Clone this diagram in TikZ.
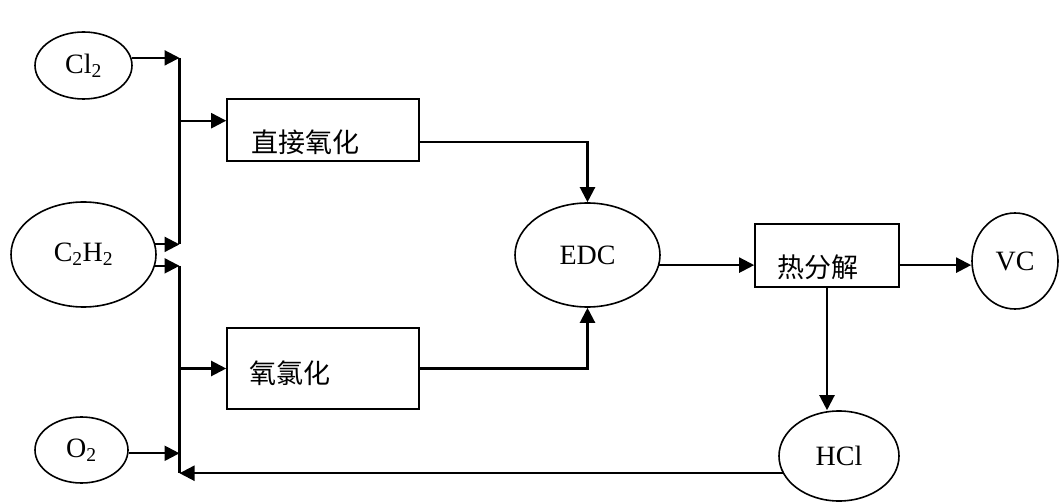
\documentclass[tikz,border=0pt]{standalone}
\usepackage{fontspec}
\setmainfont{Liberation Serif}
\newfontfamily\cjk{Noto Sans CJK SC}
\usetikzlibrary{shapes.geometric,arrows.meta,calc}
\begin{document}
\begin{tikzpicture}[x=1pt,y=-1pt,
  ell/.style={draw,ellipse,line width=1.6pt,inner sep=0pt,font=\fontsize{28}{30}\selectfont},
  box/.style={draw,rectangle,line width=1.6pt,inner sep=0pt},
  lbl/.style={inner sep=0pt,font=\cjk\fontsize{27}{29}\selectfont},
  ln/.style={line width=2.2pt},
  arr/.style={line width=2.2pt,-{Triangle[length=15pt,width=15pt]}}]
\useasboundingbox (0,0) rectangle (1059,502);
% ellipses
\node[ell,minimum width=97pt,minimum height=67pt] (cl2) at (83.5,65.5) {Cl\textsubscript{2}};
\node[ell,minimum width=145pt,minimum height=105pt] (c2h2) at (83.5,254.5) {C\textsubscript{2}H\textsubscript{2}};
\node[ell,minimum width=93pt,minimum height=66pt] (o2) at (81.5,450) {O\textsubscript{2}};
\node[ell,minimum width=145pt,minimum height=104pt] (edc) at (587.5,255) {EDC};
\node[ell,minimum width=86pt,minimum height=96pt] (vc) at (1015,261) {VC};
\node[ell,minimum width=120pt,minimum height=90pt] (hcl) at (839,456) {HCl};
% boxes
\node[box,minimum width=192pt,minimum height=62pt] (box1) at (323,130) {};
\node[lbl] (t1) at (305,142) {直接氧化};
\node[box,minimum width=192pt,minimum height=81pt] (box2) at (323,368.5) {};
\node[lbl] (t2) at (290,373) {氧氯化};
\node[box,minimum width=144pt,minimum height=63pt] (box3) at (827,255.5) {};
\node[lbl] (t3) at (818,267) {热分解};
% bus coordinates
\coordinate (bT) at (179.5,58);
\coordinate (bM) at (179.5,244);
\coordinate (bN) at (179.5,266);
\coordinate (bB) at (179.5,473);
\coordinate (b1) at (179.5,120.7);
% bus lines
\draw[ln] (bT) -- (bM);
\draw[ln] (bN) -- (bB);
% inputs
\draw[arr] (cl2.9) -- (cl2.9 -| bT);
\draw[arr] (c2h2.8) -- (c2h2.8 -| bM);
\draw[arr] (c2h2.-9) -- (c2h2.-9 -| bN);
\draw[arr] (o2.-4) -- (o2.-4 -| bB);
\draw[arr] (hcl.197) -- (hcl.197 -| bB);
% to boxes
\draw[arr] (b1) -- (b1 -| box1.west);
\draw[arr] (box2.west -| bN) -- (box2.west);
% to EDC
\draw[arr] ($(box1.south east)+(0,-20)$) -| (edc.north);
\draw[arr] (box2.east) -| (edc.south);
% downstream
\draw[arr] (edc.-8) -- (edc.-8 -| box3.west);
\draw[arr] (box3.east |- edc.-8) -- (vc.west |- edc.-8);
\draw[arr] (box3.south) -- (box3.south |- hcl.north);
\end{tikzpicture}
\end{document}
